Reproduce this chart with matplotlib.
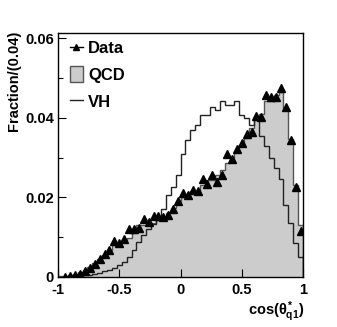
import numpy as np
import matplotlib
matplotlib.use("Agg")
import matplotlib.pyplot as plt
from matplotlib.lines import Line2D
from matplotlib.patches import Patch

plt.rcParams['font.family'] = ['Liberation Sans', 'DejaVu Sans']
plt.rcParams['font.weight'] = 'bold'
plt.rcParams['mathtext.fontset'] = 'custom'
plt.rcParams['mathtext.rm'] = 'Liberation Sans:bold'
plt.rcParams['mathtext.it'] = 'Liberation Sans:bold'
plt.rcParams['mathtext.bf'] = 'Liberation Sans:bold'

# 50 bins of cos(theta*_q1), width 0.04
bin_edges = np.linspace(-1.0, 1.0, 51)

data = [0.0, 0.0001, 0.0003, 0.0004, 0.0008, 0.0014, 0.0023, 0.0033, 0.0044, 0.0058,
        0.0069, 0.0091, 0.0085, 0.0095, 0.0120, 0.0120, 0.0123, 0.0145, 0.0138, 0.0152,
        0.0154, 0.0151, 0.0155, 0.0171, 0.0192, 0.0211, 0.0206, 0.0218, 0.0216, 0.0246,
        0.0234, 0.0256, 0.0238, 0.0255, 0.0310, 0.0296, 0.0321, 0.0337, 0.0359, 0.0364,
        0.0405, 0.0403, 0.0458, 0.0451, 0.0452, 0.0474, 0.0426, 0.0343, 0.0226, 0.0116]

qcd = [0.0002, 0.0003, 0.0005, 0.0008, 0.0012, 0.0018, 0.0026, 0.0035, 0.0045, 0.0056,
       0.0068, 0.0080, 0.0085, 0.0092, 0.0098, 0.0110, 0.0131, 0.0131, 0.0135, 0.0135,
       0.0148, 0.0148, 0.0160, 0.0173, 0.0190, 0.0202, 0.0202, 0.0215, 0.0215, 0.0232,
       0.0244, 0.0244, 0.0257, 0.0269, 0.0286, 0.0298, 0.0315, 0.0332, 0.0350, 0.0375,
       0.0400, 0.0410, 0.0442, 0.0442, 0.0458, 0.0465, 0.0425, 0.0347, 0.0232, 0.0131]

vh = [0.0, 0.0, 0.0001, 0.0002, 0.0003, 0.0004, 0.0006, 0.0008, 0.0011, 0.0014,
      0.0018, 0.0023, 0.0029, 0.0037, 0.0050, 0.0068, 0.0088, 0.0105, 0.0120, 0.0132,
      0.0145, 0.0172, 0.0205, 0.0225, 0.0255, 0.0310, 0.0345, 0.0370, 0.0382, 0.0407,
      0.0407, 0.0428, 0.0420, 0.0441, 0.0432, 0.0432, 0.0441, 0.0407, 0.0399, 0.0382,
      0.0395, 0.0355, 0.0328, 0.0300, 0.0275, 0.0245, 0.0180, 0.0135, 0.0085, 0.0050]

centers = 0.5 * (bin_edges[:-1] + bin_edges[1:])

fig = plt.figure(figsize=(3.37, 3.27), dpi=100)
ax = fig.add_axes([58 / 337, 1 - 277 / 327, 245 / 337, 244 / 327])

ax.stairs(qcd, bin_edges, fill=True, facecolor='#cccccc', edgecolor='#555555', lw=1.0)
ax.stairs(vh, bin_edges, color='#222222', lw=1.0)
ax.plot(centers[1:], data[1:], '^', color='black', ms=6, ls='none')

ax.set_xlim(-1, 1)
ax.set_ylim(0, 0.0613)
ax.set_xticks([-1, -0.5, 0, 0.5, 1])
ax.set_xticklabels(['-1', '-0.5', '0', '0.5', '1'])
ax.set_yticks([0, 0.02, 0.04, 0.06])
ax.set_yticklabels(['0', '0.02', '0.04', '0.06'])
ax.set_yticks([0.01, 0.03, 0.05], minor=True)
ax.tick_params(axis='both', which='both', direction='in', labelsize=10.5,
               top=False, right=False, width=0.8)
ax.tick_params(axis='y', which='major', length=6, pad=3)
ax.tick_params(axis='y', which='minor', length=3.5)
ax.tick_params(axis='x', which='major', length=6, pad=4)
for s in ax.spines.values():
    s.set_linewidth(1.0)

fig.text(14 / 337, 1 - 31 / 327, 'Fraction/(0.04)', rotation=90,
         ha='center', va='top', fontsize=10.5, fontweight='bold')
fig.text(304 / 337, 1 - 324 / 327, r'cos($\theta^{*}_{q1}$)',
         ha='right', va='bottom', fontsize=10.5, fontweight='bold')

handles = [Line2D([], [], color='black', marker='^', ms=5, lw=1.0),
           Patch(facecolor='#cccccc', edgecolor='#555555', lw=1.0),
           Line2D([], [], color='#222222', lw=1.0)]
ax.legend(handles, ['Data', 'QCD', 'VH'], loc='upper left', frameon=False,
          prop={'weight': 'bold', 'size': 12}, handlelength=0.8, handleheight=1.1,
          handletextpad=0.3, labelspacing=0.6, borderaxespad=0.3,
          bbox_to_anchor=(0.0, 1.02))

fig.savefig('out.png', dpi=100)
